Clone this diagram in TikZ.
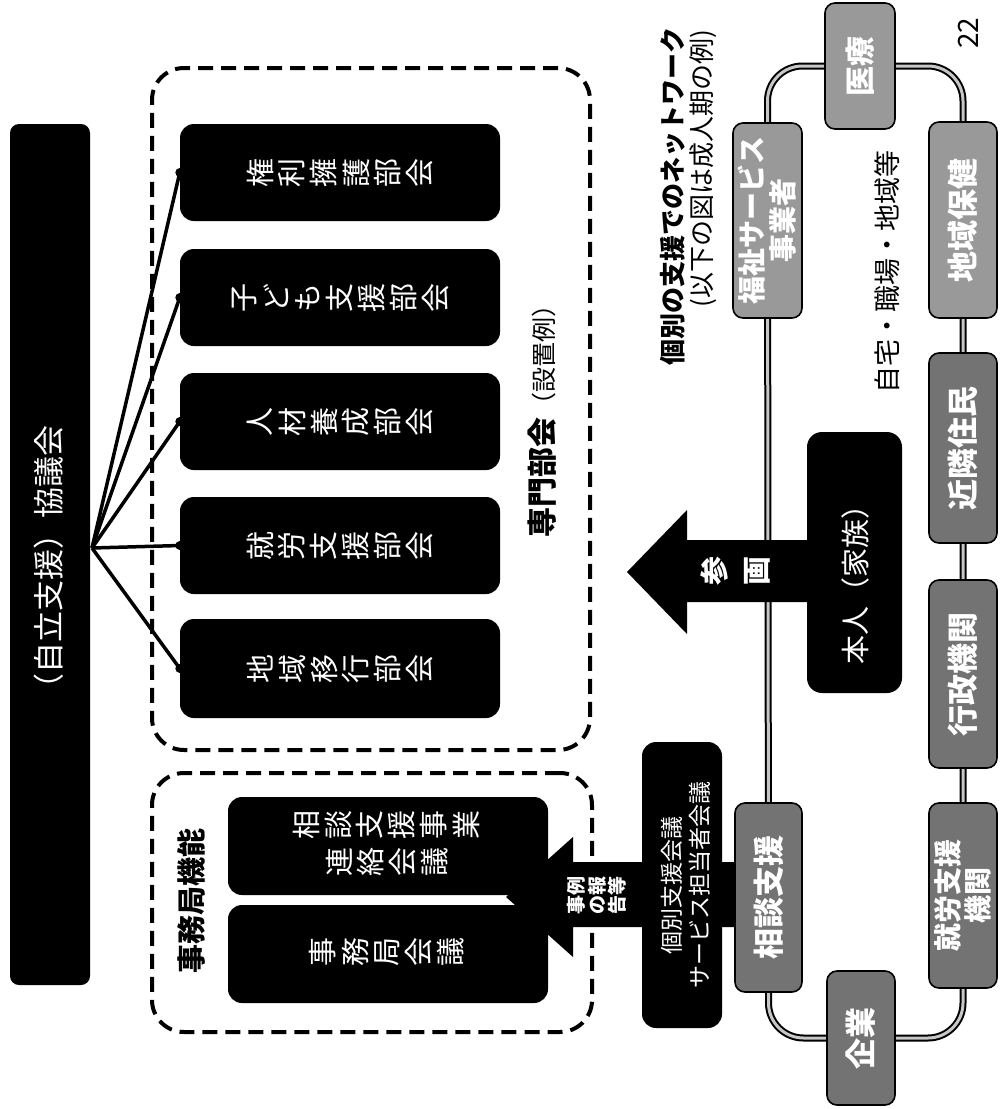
\documentclass[tikz,border=0pt]{standalone}
\usepackage{fontspec}
\setmainfont{Noto Sans CJK JP}
\usetikzlibrary{backgrounds}
\newcommand\fs[2]{\fontsize{#1}{#2}\selectfont}
\makeatletter
\def\tate@end{\tate@end}
\def\tate@loop#1{\ifx#1\tate@end\else\vbox to\tate@pitch{\vss\hbox to 1em{\hss#1\hss}\vss}\expandafter\tate@loop\fi}
\newcommand\tate[2][1.1em]{\vbox{\offinterlineskip\def\tate@pitch{#1}\tate@loop#2\tate@end}}
\makeatother
\tikzset{
 blk/.style={fill=black, rounded corners=14pt, inner sep=0pt},
 dsh/.style={draw=black, line width=4pt, dash pattern=on 15pt off 8pt, rounded corners=32pt, inner sep=0pt},
 ringbox/.style={draw=black, line width=1.6pt, fill=black!55, rounded corners=10pt, inner sep=0pt},
 ringboxl/.style={ringbox, fill=black!40},
 wt/.style={text=white, inner sep=0pt, rotate=90, align=center},
 bt/.style={text=black, inner sep=0pt, rotate=90, align=center},
 fanline/.style={line width=3.5pt},
 ringline/.style={double=black!22, double distance=3pt, line width=2pt, rounded corners=35pt},
}
\begin{document}
\begin{tikzpicture}[x=1pt,y=-1pt]
\useasboundingbox (0,0) rectangle (1003,1109);

% ---- council bar
\node[blk, rounded corners=9pt, minimum width=80pt, minimum height=861pt] (kyogi) at (50,554.5) {};
\node[wt, font=\fs{31}{34}] at (49,565) {（自立支援）協議会};

% ---- specialist committees
\node[dsh, minimum width=438pt, minimum height=682pt] (senmon) at (371,409) {};
\node[blk, minimum width=320pt, minimum height=97pt] (kenri)  at (340,172.5) {};
\node[blk, minimum width=320pt, minimum height=97pt] (kodomo) at (340,297.5) {};
\node[blk, minimum width=320pt, minimum height=97pt] (jinzai) at (340,421.5) {};
\node[blk, minimum width=320pt, minimum height=97pt] (shuro)  at (340,545.5) {};
\node[blk, minimum width=320pt, minimum height=99pt] (chiiki) at (340,668.5) {};
\node[wt, font=\fs{29}{32}] at (kenri)  {\tate[32pt]{権利擁護部会}};
\node[wt, font=\fs{29}{32}] at (kodomo) {\tate[32pt]{子ども支援部会}};
\node[wt, font=\fs{29}{32}] at (jinzai) {\tate[32pt]{人材養成部会}};
\node[wt, font=\fs{29}{32}] at (shuro)  {\tate[32pt]{就労支援部会}};
\node[wt, font=\fs{29}{32}] at (chiiki) {\tate[32pt]{地域移行部会}};
\node[bt, font=\fs{25}{28}] (senmonlbl) at (542,415) {{\bfseries\fs{30}{34}専門部会}（設置例）};

% ---- fan connectors
\coordinate (fan) at (92,548);
\foreach \b in {kenri,kodomo,jinzai,shuro,chiiki}{
  \draw[fanline] (fan) -- (\b.west);
  \fill (\b.west) circle (4.5pt);
}

% ---- secretariat
\node[dsh, minimum width=440pt, minimum height=259pt] (jimu) at (372,902.5) {};
\node[bt, font=\bfseries\fs{29}{32}] (jimulbl) at (191,901) {事務局機能};
\node[blk, minimum width=320pt, minimum height=98pt] (renraku) at (388,846) {};
\node[blk, minimum width=320pt, minimum height=98pt] (jimukaigi) at (388,954) {};
\node[wt, font=\fs{29}{32}] at (386,825) {\tate[32pt]{相談支援事業}};
\node[wt, font=\fs{29}{32}] at (387,862) {\tate[32pt]{連絡会議}};
\node[wt, font=\fs{29}{32}] at (387,952) {\tate[32pt]{事務局会議}};

% ---- network ring boxes
\node[ringboxl, minimum width=70pt, minimum height=126pt] (iryo) at (860,66) {};
\node[ringboxl, minimum width=69pt, minimum height=195pt] (fukushi) at (767.5,220.5) {};
\node[ringboxl, minimum width=68pt, minimum height=196pt] (hoken) at (963,220) {};
\node[ringbox, minimum width=68pt, minimum height=190pt] (kinrin) at (963,448) {};
\node[ringbox, minimum width=68pt, minimum height=188pt] (gyosei) at (963,674) {};
\node[ringbox, minimum width=68pt, minimum height=185pt] (shuroshien) at (963,895.5) {};
\node[ringbox, minimum width=67pt, minimum height=189pt] (soudan) at (768.5,897.5) {};
\node[ringbox, minimum width=68pt, minimum height=134pt] (kigyo) at (861,1038) {};
\node[wt, font=\bfseries\fs{30}{33}] at (iryo) {医療};
\node[wt, font=\bfseries\fs{28}{31}] at (fukushi) {福祉サービス\\事業者};
\node[wt, font=\bfseries\fs{31}{34}] at (hoken) {地域保健};
\node[wt, font=\bfseries\fs{31}{34}] at (kinrin) {近隣住民};
\node[wt, font=\bfseries\fs{31}{34}] at (gyosei) {行政機関};
\node[wt, font=\bfseries\fs{28}{30}] at (shuroshien) {就労支援\\機関};
\node[wt, font=\bfseries\fs{31}{34}] at (soudan) {相談支援};
\node[wt, font=\bfseries\fs{31}{34}] at (kigyo) {企業};

\begin{pgfonlayer}{background}
\draw[ringline] (fukushi.center) |- (iryo.center) -| (hoken.center) -- (shuroshien.center)
   |- (kigyo.center) -| (soudan.center) -- cycle;
\end{pgfonlayer}

% ---- person and participation arrow
\node[blk, rounded corners=15pt, minimum width=95pt, minimum height=261pt] (honnin) at (854.5,562.5) {};
\node[wt, font=\fs{29}{32}] at (855,577) {本人（家族）};
\coordinate (santip) at (627,572);
\fill ([xshift=10pt]honnin.west |- 0,540) -- (687,540) -- (687,510) -- (santip)
      -- (687,634) -- (687,602) -- ([xshift=10pt]honnin.west |- 0,602) -- cycle;
\node[wt, font=\bfseries\fs{29}{32}] (sankaku) at (736,571) {\tate[43pt]{参画}};

% ---- report arrow, then individual support meeting on top
\coordinate (reptip) at (506,897);
\fill (soudan.west |- 0,862) -- (573,862) -- (573,837) -- (reptip)
      -- (573,957) -- (573,927) -- (soudan.west |- 0,927) -- cycle;
\node[wt, font=\bfseries\fs{19}{20.5}] (jirei) at (597,895) {事例\\の報\\告等};
\node[blk, minimum width=80pt, minimum height=286pt] (kobetsu) at (682,885) {};
\node[wt, font=\fs{23}{28}] at (686,885) {個別支援会議\\サービス担当者会議};

% ---- titles and notes
\node[bt, anchor=east, font=\bfseries\fs{26}{30}] (title1) at (673,27) {個別の支援でのネットワーク};
\node[bt, anchor=east, font=\fs{26}{30}] (title2) at (703,30) {(以下の図は成人期の例)};
\node[bt, font=\fs{27}{30}] (place) at (887,272) {自宅・職場・地域等};
\node[bt, font=\fs{28}{30}] (pagenum) at (968,33) {22};
\end{tikzpicture}
\end{document}
